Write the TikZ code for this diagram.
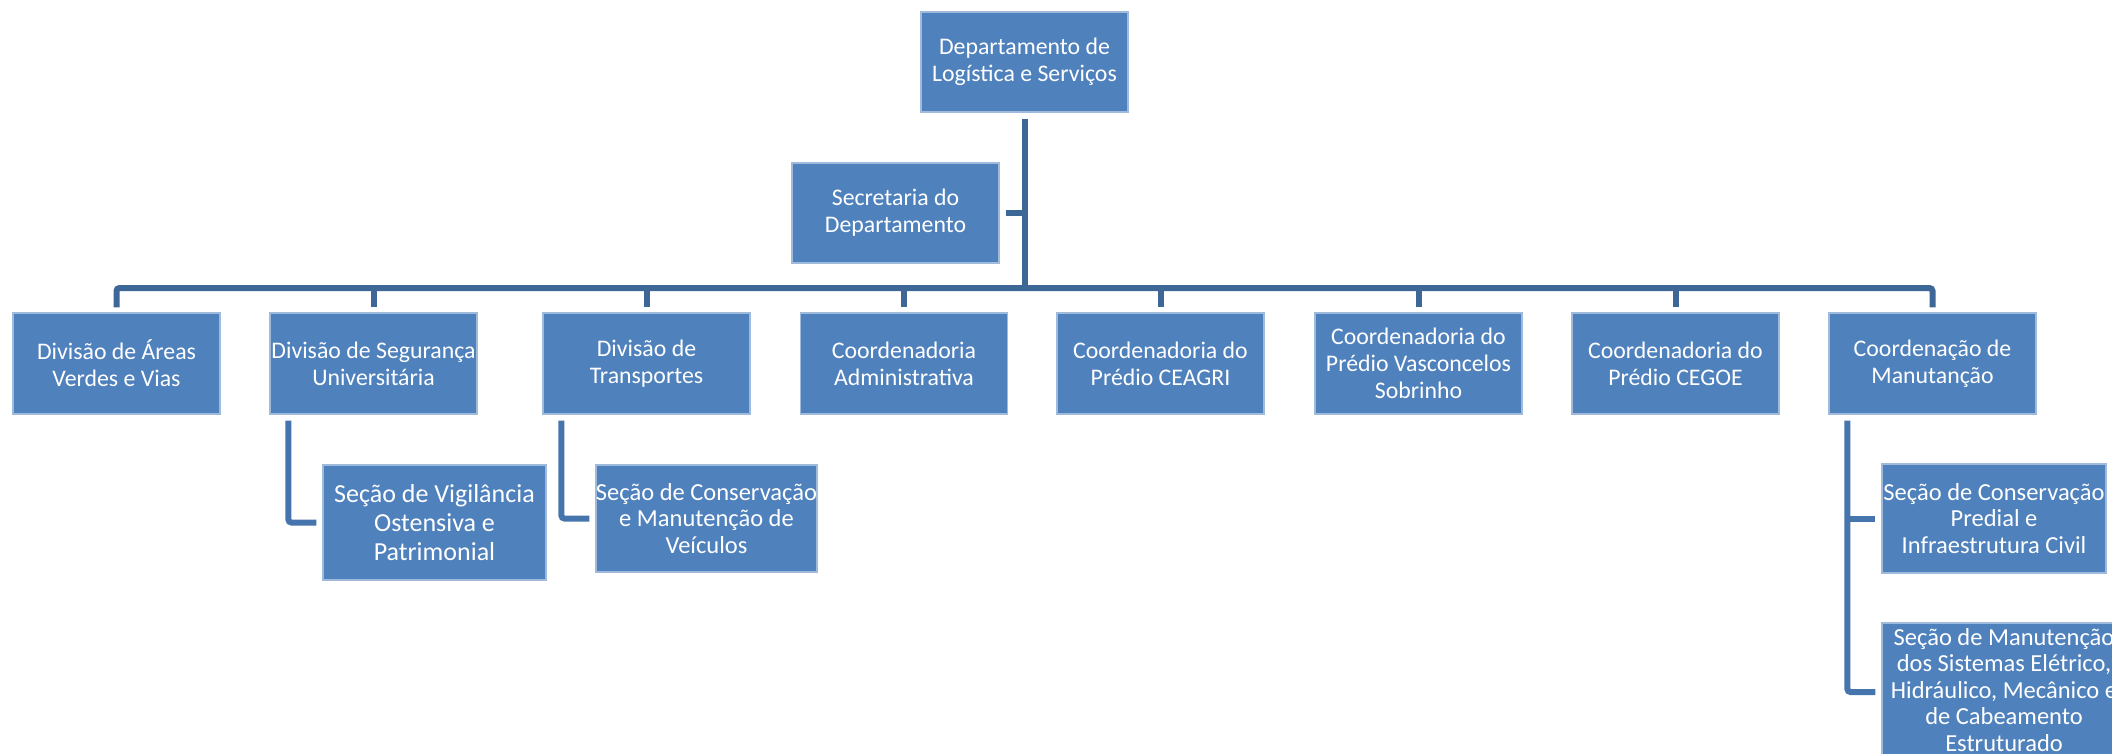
\documentclass[tikz,border=0pt]{standalone}
\usepackage{fontspec}
\setmainfont{Carlito}
\usetikzlibrary{calc}
\definecolor{boxblue}{RGB}{79,129,189}
\definecolor{boxedge}{RGB}{160,186,220}
\definecolor{busblue}{RGB}{61,103,151}
\definecolor{hookblue}{RGB}{70,116,172}
\tikzset{
  orgbox/.style={rectangle, fill=boxblue, draw=boxedge, line width=1.2pt,
    inner sep=0pt, text=white, align=center,
    minimum width=207pt, minimum height=101pt,
    font=\fontsize{23.8}{27}\selectfont},
  subbox/.style={orgbox, font=\fontsize{24.5}{26.5}\selectfont},
  conn/.style={draw=busblue, line width=6pt},
  hookline/.style={draw=hookblue, line width=6pt, rounded corners=3pt},
}
\begin{document}
\begin{tikzpicture}[x=1pt,y=-1pt]
\useasboundingbox (0,0) rectangle (2112,754);
\clip (0,0) rectangle (2112,754);
\node[orgbox, minimum height=100pt] (top) at (1024.5,62) {Departamento de\\Logística e Serviços};
\node[orgbox, minimum height=100pt] (sec) at (895.5,213) {Secretaria do\\Departamento};
\node[orgbox] (b1) at (116.5,363.5) {Divisão de Áreas\\Verdes e Vias};
\node[orgbox] (b2) at (373.5,363.5) {Divisão de Segurança\\Universitária};
\node[orgbox] (b3) at (646.5,363.5) {Divisão de\\Transportes};
\node[orgbox] (b4) at (904,363.5) {Coordenadoria\\Administrativa};
\node[orgbox] (b5) at (1160.5,363.5) {Coordenadoria do\\Prédio CEAGRI};
\node[orgbox] (b6) at (1418.5,363.5) {Coordenadoria do\\Prédio Vasconcelos\\Sobrinho};
\node[orgbox] (b7) at (1675.5,363.5) {Coordenadoria do\\Prédio CEGOE};
\node[orgbox] (b8) at (1932.5,363.5) {Coordenação de\\Manutanção};
\node[subbox, minimum width=223pt, minimum height=115pt, font=\fontsize{26}{29}\selectfont] (vig) at (434.5,522.5) {Seção de Vigilância\\Ostensiva e\\Patrimonial};
\node[subbox, minimum width=219pt, minimum height=107pt] (vei) at (706.5,518.5) {Seção de Conservação\\e Manutenção de\\Veículos};
\node[subbox, minimum width=224pt, minimum height=109pt] (pred) at (1994,518.5) {Seção de Conservação\\Predial e\\Infraestrutura Civil};
\node[subbox, minimum width=244pt, minimum height=134pt] (ele) at (2004,690) {Seção de Manutenção\\dos Sistemas Elétrico,\\Hidráulico, Mecânico e\\de Cabeamento\\Estruturado};
% bus
\coordinate (bus) at (0,288);
\draw[conn] ($(top.south)+(0,6)$) -- (top.south |- bus);
\draw[conn] ($(sec.east)+(6,0)$) -- (sec.east -| top.south);
\draw[conn, rounded corners=3pt] ($(b1.north)+(0,-5)$) -- (b1.north |- bus) -- (b8.north |- bus) -- ($(b8.north)+(0,-5)$);
\foreach \b in {b2,b3,b4,b5,b6,b7} {
  \draw[conn] ($(\b.north)+(0,-5)$) -- (\b.north |- bus);
}
% hooks
\coordinate (h2) at ($(b2.south west)+(19,6)$);
\coordinate (h3) at ($(b3.south west)+(19,6)$);
\coordinate (h8) at ($(b8.south west)+(19,6)$);
\draw[hookline] (h2) |- ($(vig.west)+(-6,0)$);
\draw[hookline] (h3) |- ($(vei.west)+(-6,0)$);
\draw[hookline] (h8) |- ($(ele.west)+(-6,2)$);
\draw[hookline] (h8 |- pred.west) -- ($(pred.west)+(-6,0)$);
\end{tikzpicture}
\end{document}
